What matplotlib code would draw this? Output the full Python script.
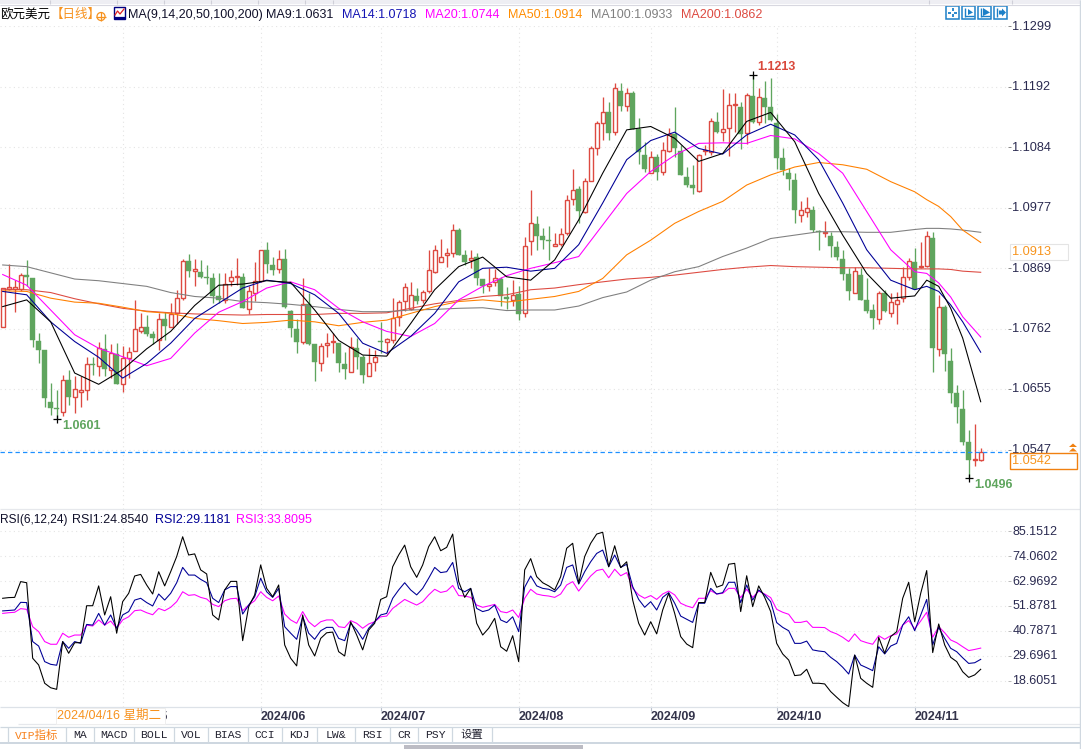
import matplotlib
matplotlib.use("Agg")
import matplotlib.pyplot as plt
from matplotlib.patches import Rectangle, Polygon, Circle
from matplotlib.transforms import ScaledTranslation

W, H = 1081, 749
FONT = ['Liberation Sans', 'Noto Sans CJK SC', 'DejaVu Sans']
plt.rcParams['font.family'] = FONT

opens = [1.0765,1.0832,1.0832,1.0832,1.0857,1.0851,1.0740,1.0724,1.0632,1.0620,
1.0613,1.0671,1.0641,1.0650,1.0652,1.0699,1.0696,1.0726,1.0689,1.0717,
1.0664,1.0709,1.0723,1.0758,1.0764,1.0752,1.0741,1.0779,1.0765,1.0789,
1.0817,1.0882,1.0865,1.0863,1.0854,1.0852,1.0820,1.0813,1.0846,1.0853,
1.0853,1.0797,1.0826,1.0847,1.0902,1.0875,1.0867,1.0886,1.0794,1.0761,
1.0739,1.0805,1.0735,1.0700,1.0732,1.0738,1.0736,1.0699,1.0684,1.0728,
1.0711,1.0677,1.0702,1.0740,1.0739,1.0742,1.0783,1.0811,1.0797,1.0819,
1.0812,1.0828,1.0863,1.0881,1.0892,1.0897,1.0937,1.0892,1.0883,1.0889,
1.0850,1.0837,1.0844,1.0850,1.0818,1.0812,1.0823,1.0789,1.0917,1.0948,
1.0926,1.0919,1.0909,1.0913,1.0931,1.0992,1.1010,1.0969,1.1024,1.1083,
1.1128,1.1147,1.1111,1.1184,1.1157,1.1181,1.1117,1.1070,1.1039,1.1066,
1.1041,1.1078,1.1108,1.1078,1.1031,1.1017,1.1006,1.1078,1.1075,1.1129,
1.1111,1.1118,1.1159,1.1156,1.1109,1.1175,1.1129,1.1172,1.1155,1.1127,
1.1065,1.1038,1.1026,1.0964,1.0969,1.0973,1.0935,1.0931,1.0927,1.0907,
1.0886,1.0859,1.0825,1.0857,1.0813,1.0795,1.0779,1.0825,1.0789,1.0806,
1.0816,1.0854,1.0880,1.0872,1.0874,1.0923,1.0725,1.0800,1.0704,1.0648,
1.0619,1.0560,1.0528,1.0528]
highs = [1.0834,1.0877,1.0848,1.0860,1.0884,1.0851,1.0755,1.0724,1.0665,1.0653,
1.0680,1.0689,1.0678,1.0677,1.0712,1.0712,1.0739,1.0752,1.0735,1.0736,
1.0731,1.0730,1.0812,1.0789,1.0786,1.0757,1.0789,1.0791,1.0807,1.0831,
1.0885,1.0895,1.0885,1.0884,1.0875,1.0860,1.0860,1.0860,1.0866,1.0887,
1.0860,1.0837,1.0881,1.0902,1.0916,1.0890,1.0902,1.0903,1.0795,1.0779,
1.0851,1.0825,1.0735,1.0736,1.0754,1.0754,1.0736,1.0721,1.0747,1.0745,
1.0715,1.0727,1.0724,1.0774,1.0745,1.0816,1.0813,1.0843,1.0844,1.0834,
1.0831,1.0901,1.0911,1.0921,1.0905,1.0948,1.0940,1.0902,1.0902,1.0897,
1.0850,1.0869,1.0867,1.0854,1.0835,1.0848,1.0837,1.0925,1.1008,1.0962,
1.0940,1.0944,1.0932,1.0940,1.0999,1.1046,1.1015,1.1030,1.1086,1.1130,
1.1174,1.1165,1.1199,1.1199,1.1189,1.1184,1.1136,1.1093,1.1077,1.1073,
1.1094,1.1118,1.1155,1.1088,1.1049,1.1053,1.1072,1.1088,1.1136,1.1146,
1.1187,1.1181,1.1181,1.1165,1.1181,1.1213,1.1189,1.1202,1.1207,1.1144,
1.1082,1.1047,1.1038,1.0988,1.0995,1.0980,1.0937,1.0953,1.0934,1.0917,
1.0902,1.0869,1.0872,1.0869,1.0851,1.0805,1.0828,1.0831,1.0825,1.0827,
1.0871,1.0887,1.0905,1.0915,1.0935,1.0934,1.0822,1.0804,1.0727,1.0662,
1.0653,1.0582,1.0592,1.0549]
lows = [1.0764,1.0831,1.0792,1.0828,1.0837,1.0730,1.0700,1.0623,1.0609,1.0601,
1.0606,1.0626,1.0612,1.0623,1.0635,1.0680,1.0678,1.0677,1.0674,1.0664,
1.0650,1.0674,1.0723,1.0755,1.0748,1.0735,1.0724,1.0742,1.0765,1.0771,
1.0813,1.0853,1.0837,1.0851,1.0842,1.0808,1.0807,1.0807,1.0838,1.0839,
1.0799,1.0788,1.0811,1.0845,1.0860,1.0857,1.0860,1.0798,1.0747,1.0719,
1.0735,1.0733,1.0668,1.0686,1.0711,1.0718,1.0684,1.0672,1.0684,1.0691,
1.0666,1.0677,1.0686,1.0718,1.0715,1.0737,1.0766,1.0794,1.0795,1.0806,
1.0807,1.0825,1.0860,1.0881,1.0872,1.0890,1.0893,1.0875,1.0869,1.0840,
1.0825,1.0828,1.0837,1.0802,1.0796,1.0802,1.0777,1.0782,1.0893,1.0902,
1.0903,1.0884,1.0909,1.0909,1.0928,1.0982,1.0949,1.0968,1.1024,1.1070,
1.1097,1.1097,1.1105,1.1149,1.1149,1.1117,1.1054,1.1041,1.1039,1.1026,
1.1035,1.1075,1.1066,1.1034,1.1014,1.1001,1.1005,1.1070,1.1070,1.1109,
1.1095,1.1069,1.1112,1.1081,1.1090,1.1127,1.1124,1.1127,1.1130,1.1046,
1.1035,1.1008,1.0950,1.0952,1.0961,1.0934,1.0901,1.0925,1.0889,1.0884,
1.0848,1.0812,1.0825,1.0812,1.0790,1.0761,1.0771,1.0792,1.0782,1.0770,
1.0810,1.0848,1.0833,1.0869,1.0872,1.0684,1.0713,1.0687,1.0629,1.0595,
1.0555,1.0496,1.0517,1.0527]
closes = [1.0834,1.0835,1.0835,1.0857,1.0854,1.0741,1.0724,1.0639,1.0621,1.0619,
1.0670,1.0641,1.0654,1.0652,1.0699,1.0697,1.0728,1.0691,1.0718,1.0664,
1.0709,1.0721,1.0761,1.0764,1.0752,1.0746,1.0779,1.0767,1.0787,1.0816,
1.0882,1.0865,1.0867,1.0854,1.0851,1.0820,1.0813,1.0842,1.0853,1.0855,
1.0799,1.0828,1.0847,1.0902,1.0877,1.0866,1.0885,1.0801,1.0763,1.0739,
1.0805,1.0735,1.0703,1.0731,1.0737,1.0740,1.0700,1.0691,1.0729,1.0712,
1.0680,1.0700,1.0712,1.0738,1.0743,1.0780,1.0809,1.0835,1.0821,1.0811,
1.0827,1.0866,1.0901,1.0890,1.0896,1.0937,1.0893,1.0881,1.0888,1.0852,
1.0838,1.0842,1.0851,1.0819,1.0814,1.0822,1.0788,1.0908,1.0949,1.0927,
1.0919,1.0917,1.0912,1.0930,1.0990,1.1009,1.0971,1.1024,1.1082,1.1127,
1.1146,1.1110,1.1189,1.1158,1.1180,1.1117,1.1076,1.1046,1.1066,1.1041,
1.1079,1.1107,1.1083,1.1034,1.1017,1.1011,1.1071,1.1080,1.1130,1.1112,
1.1116,1.1159,1.1161,1.1108,1.1177,1.1129,1.1173,1.1156,1.1133,1.1065,
1.1043,1.1028,1.0973,1.0972,1.0977,1.0937,1.0933,1.0933,1.0908,1.0889,
1.0859,1.0829,1.0864,1.0813,1.0794,1.0780,1.0825,1.0794,1.0809,1.0813,
1.0853,1.0882,1.0833,1.0874,1.0926,1.0728,1.0800,1.0716,1.0648,1.0622,
1.0561,1.0529,1.0530,1.0542]

ma_bars = [0,4,8,12,16,20,24,28,32,36,40,44,48,52,56,60,64,68,72,76,80,84,88,92,96,100,104,108,
           112,116,120,124,128,132,136,140,144,148,152,154,156,158,160,163]
ma9 = [1.0801,1.0813,1.0774,1.0683,1.0663,1.0689,1.0726,1.0757,1.0803,1.0839,1.0841,1.0847,1.0844,1.0795,1.0741,
       1.0715,1.0713,1.0771,1.0831,1.0872,1.0889,1.0854,1.0848,1.0884,1.0955,1.1038,1.1115,1.1121,1.1100,1.1059,
       1.1073,1.1130,1.1146,1.1094,1.1002,1.0928,1.0860,1.0816,1.0820,1.0848,1.0837,1.0798,1.0745,1.0632]
ma14 = [1.0828,1.0822,1.0774,1.0739,1.0711,1.0674,1.0700,1.0736,1.0780,1.0807,1.0834,1.0848,1.0842,1.0822,1.0789,
        1.0736,1.0718,1.0748,1.0789,1.0845,1.0869,1.0871,1.0864,1.0869,1.0911,1.0985,1.1062,1.1096,1.1111,1.1082,
        1.1072,1.1106,1.1125,1.1106,1.1062,1.0985,1.0902,1.0848,1.0831,1.0837,1.0828,1.0804,1.0774,1.0720]
ma20 = [1.0858,1.0839,1.0795,1.0751,1.0727,1.0712,1.0696,1.0709,1.0754,1.0791,1.0810,1.0834,1.0845,1.0831,1.0798,
        1.0774,1.0757,1.0748,1.0771,1.0813,1.0837,1.0856,1.0869,1.0879,1.0890,1.0946,1.1002,1.1041,1.1070,1.1091,
        1.1092,1.1091,1.1105,1.1099,1.1073,1.1038,1.0970,1.0902,1.0863,1.0860,1.0843,1.0818,1.0783,1.0747]
ma50 = [1.0829,1.0828,1.0816,1.0809,1.0807,1.0800,1.0792,1.0789,1.0780,1.0776,1.0771,1.0773,1.0777,1.0774,1.0767,
        1.0773,1.0777,1.0789,1.0801,1.0810,1.0813,1.0809,1.0814,1.0819,1.0828,1.0851,1.0893,1.0919,1.0949,1.0970,
        1.0988,1.1017,1.1035,1.1049,1.1057,1.1053,1.1045,1.1023,1.1005,1.0991,1.0979,1.0961,1.0937,1.0915]
ma100 = [1.0875,1.0872,1.0861,1.0850,1.0847,1.0842,1.0837,1.0826,1.0819,1.0816,1.0810,1.0808,1.0805,1.0801,1.0796,
         1.0792,1.0792,1.0795,1.0796,1.0798,1.0799,1.0794,1.0795,1.0795,1.0802,1.0817,1.0827,1.0848,1.0863,1.0872,
         1.0890,1.0905,1.0922,1.0928,1.0934,1.0934,1.0933,1.0933,1.0938,1.0940,1.0940,1.0939,1.0937,1.0933]
ma200 = [1.0832,1.0831,1.0826,1.0815,1.0806,1.0798,1.0793,1.0790,1.0788,1.0787,1.0786,1.0787,1.0787,1.0787,1.0789,
         1.0789,1.0790,1.0798,1.0806,1.0812,1.0819,1.0822,1.0831,1.0834,1.0840,1.0845,1.0850,1.0853,1.0857,1.0862,
         1.0867,1.0871,1.0874,1.0872,1.0871,1.0870,1.0870,1.0869,1.0868,1.0868,1.0868,1.0867,1.0864,1.0862]

rsi1 = [55.3,55.6,55.7,62.7,62.2,28.7,25.7,17.6,15.6,14.9,36.1,30.9,35.6,35.6,52.0,52.0,60.8,47.9,56.0,39.8,
53.8,57.5,65.2,65.9,61.2,57.2,67.1,60.8,67.1,73.8,82.6,74.5,75.0,67.9,66.1,47.9,45.7,59.0,62.8,62.8,
36.5,51.6,56.8,70.1,59.7,56.0,61.2,34.6,28.7,25.3,47.9,34.6,29.7,37.5,40.0,40.3,31.6,29.7,44.9,39.0,
32.4,41.2,44.2,54.8,56.0,69.3,74.5,78.9,69.3,64.6,70.1,78.2,82.6,76.4,77.9,83.8,62.7,55.7,59.7,44.2,
39.0,42.0,46.4,33.8,31.8,38.7,27.2,67.9,72.9,64.9,
62.2,60.8,59.0,64.9,77.5,79.7,61.9,73.8,79.7,83.8,84.6,69.3,78.6,68.9,71.5,54.5,44.2,39.0,44.9,39.5,
50.1,57.5,48.6,38.3,35.0,33.4,53.4,53.4,66.8,60.2,61.2,70.4,70.8,49.4,65.3,51.6,60.8,55.7,49.4,35.3,
30.6,27.9,21.0,21.3,23.8,17.6,17.6,17.3,13.9,11.4,9.0,7.2,30.1,19.8,17.6,15.8,38.0,30.9,38.3,40.5,
55.3,62.4,44.9,57.5,67.6,31.2,43.9,34.6,29.1,27.2,22.7,20.2,21.3,23.8]
rsi2 = [49.7,49.9,50.1,53.5,53.4,36.1,34.1,27.2,26.0,25.6,36.1,33.1,36.1,35.3,43.7,43.4,48.6,43.4,47.9,42.0,
47.9,49.4,54.5,55.3,53.4,51.9,57.2,54.5,57.5,62.2,69.0,65.6,65.6,63.7,62.2,55.3,53.4,59.0,60.5,60.5,
48.3,52.3,56.0,64.2,58.2,55.7,59.7,42.7,39.8,37.1,47.1,39.8,37.1,40.9,42.4,42.4,37.5,36.5,44.2,41.2,
37.1,42.0,44.9,47.9,48.6,55.3,59.0,62.2,59.0,56.8,59.7,64.2,69.0,66.7,67.1,71.2,59.7,58.2,59.7,50.8,
49.4,50.1,52.3,45.7,44.5,47.1,40.5,60.2,65.2,60.8,
59.7,59.3,58.2,61.2,69.0,70.1,61.6,67.1,71.5,75.2,76.7,69.3,74.5,69.0,70.4,60.5,54.8,51.3,53.8,50.1,
55.7,57.8,53.1,47.4,46.0,44.6,53.1,53.1,59.7,57.2,57.8,62.4,62.4,53.4,61.2,54.5,59.0,56.8,53.8,44.5,
42.4,40.9,35.3,35.3,36.3,32.4,31.9,31.6,29.1,27.2,24.7,21.7,30.1,25.7,24.5,23.2,33.8,30.6,34.1,35.3,
43.4,47.1,40.9,47.9,54.8,34.6,42.4,37.5,33.1,31.6,28.9,26.4,26.7,28.2]
rsi3 = [48.6,48.9,49.1,50.7,50.4,42.7,40.5,36.1,34.9,34.9,39.8,38.0,39.0,39.0,43.4,43.0,45.7,43.4,45.2,42.0,
45.7,47.1,49.8,50.1,48.9,48.0,50.8,49.8,51.3,53.8,58.2,56.6,56.9,55.7,55.0,52.6,51.6,54.2,55.1,55.3,
49.8,52.3,54.2,58.2,55.7,54.2,56.3,48.3,45.7,44.2,49.4,44.9,42.7,44.9,45.7,45.7,42.7,42.3,45.4,44.2,
42.0,43.9,44.9,47.1,47.4,50.8,52.8,54.8,53.5,52.3,53.8,56.8,59.3,57.9,58.5,61.0,56.5,56.3,55.7,52.3,
51.3,51.9,52.6,49.4,48.9,50.1,46.8,55.3,59.3,57.2,
56.6,56.3,55.7,57.2,61.2,62.7,58.5,61.9,65.2,67.6,68.2,64.4,68.2,65.3,66.7,59.7,56.8,55.3,56.5,54.8,
57.2,58.5,56.8,53.1,51.9,51.1,55.3,55.3,58.7,57.2,57.5,59.7,59.7,55.6,59.3,55.7,58.5,57.2,55.6,50.4,
49.1,48.2,44.6,44.6,45.2,42.4,42.4,42.3,40.5,39.5,38.0,36.1,39.5,36.5,35.6,34.9,38.7,37.1,38.7,39.5,
43.4,45.4,41.7,45.2,49.1,38.0,42.7,40.0,36.8,35.6,33.8,32.1,32.6,33.2]

price_ticks = [1.1299,1.1192,1.1084,1.0977,1.0869,1.0762,1.0655,1.0547]
rsi_ticks = [85.1512,74.0602,62.9692,51.8781,40.7871,29.6961,18.6051]
date_bars = [20,43,63,86,108,129,152]
date_labels = ['2024/05','2024/06','2024/07','2024/08','2024/09','2024/10','2024/11']
tab_labels = ['VIP指标','MA','MACD','BOLL','VOL','BIAS','CCI','KDJ','LW&','RSI','CR','PSY','设置']
last_price = 1.0542
ma50_last = 1.0913
high_bar, low_bar, low2_bar = 125, 9, 161

n = len(closes)
assert all(len(a) == n for a in (opens, highs, lows, rsi1, rsi2, rsi3))
bars = list(range(n))

RED, GREEN = '#dd4a41', '#5fa55e'
C_MA = ['#000000', '#000096', '#ff00ff', '#ff8000', '#808080', '#dd4a41']
GRID = '#e4e4e4'
TICKC = '#2a2a50'
LINE_W = 0.78

fig = plt.figure(figsize=(W/100, H/100), dpi=100, facecolor='white')

def rect(x0, y0, x1, y1):
    return [x0/W, 1-y1/H, (x1-x0)/W, (y1-y0)/H]

X_LEFT, X_RIGHT = -0.445, 167.55

def shift_ylabels(a):
    off = ScaledTranslation(0, -0.5/100, fig.dpi_scale_trans)
    for lbl in a.get_yticklabels():
        lbl.set_transform(lbl.get_transform() + off)

# price panel
ax = fig.add_axes(rect(0, 26, 1008, 509))
ax.set_xlim(X_LEFT, X_RIGHT)
ax.set_ylim(1.1213-(509-74.7)/5629, 1.1213-(26-74.7)/5629)
for s in ax.spines.values():
    s.set_visible(False)
ax.set_xticks([])
ax.yaxis.tick_right()
ax.set_yticks(price_ticks)
ax.set_yticklabels([f'{t:.4f}' for t in price_ticks], fontsize=9.2, color=TICKC, va='center')
ax.tick_params(axis='y', length=2, width=0.7, color='#888888', pad=1.2)
shift_ylabels(ax)
for t in price_ticks:
    ax.axhline(t, color=GRID, lw=0.8, ls=(0, (1, 3)), zorder=0)
for b in date_bars:
    ax.axvline(b, color=GRID, lw=0.8, ls=(0, (1, 3)), zorder=0)

for i in bars:
    up = closes[i] >= opens[i]
    c = RED if up else GREEN
    ax.vlines(i, lows[i], highs[i], color=c, lw=0.95, zorder=2)
    lo, hi = min(opens[i], closes[i]), max(opens[i], closes[i])
    if up:
        ax.bar(i, hi-lo, bottom=lo, width=0.66, facecolor='white', edgecolor=c, linewidth=1.0, zorder=3)
    else:
        ax.bar(i, hi-lo, bottom=lo, width=0.82, facecolor=c, edgecolor=c, linewidth=0.3, zorder=3)

for series, c in zip((ma200, ma100, ma50, ma20, ma14, ma9), C_MA[::-1]):
    ax.plot(ma_bars, series, color=c, lw=LINE_W, zorder=4, solid_joinstyle='round')

ax.axhline(last_price, color='#1e90ff', lw=0.9, ls=(0, (3.5, 2.5)), zorder=5)
for b, v in ((high_bar, highs[high_bar]), (low_bar, lows[low_bar]), (low2_bar, lows[low2_bar])):
    ax.plot([b], [v], marker='+', ms=6, mew=0.9, color='black', zorder=6)

# RSI panel
ax2 = fig.add_axes(rect(0, 510, 1008, 707))
ax2.set_xlim(X_LEFT, X_RIGHT)
ax2.set_ylim(18.6+(681-707)*0.4437, 18.6+(681-510)*0.4437)
for s in ax2.spines.values():
    s.set_visible(False)
ax2.yaxis.tick_right()
ax2.set_yticks(rsi_ticks)
ax2.set_yticklabels([f'{t:.4f}' for t in rsi_ticks], fontsize=9, color=TICKC, va='center')
ax2.tick_params(axis='y', length=2, width=0.7, color='#bbbbbb', pad=1.2)
shift_ylabels(ax2)
ax2.set_xticks(date_bars)
ax2.set_xticklabels(date_labels, ha='left', fontsize=9, fontweight='bold', color='#33334a')
ax2.tick_params(axis='x', length=3, width=0.8, color='#b8c0cc', pad=0)
for t in rsi_ticks:
    ax2.axhline(t, color=GRID, lw=0.8, ls=(0, (1, 3)), zorder=0)
for b in date_bars:
    ax2.axvline(b, color=GRID, lw=0.8, ls=(0, (1, 3)), zorder=0)
ax2.plot(bars, rsi3, color='#ff00ff', lw=LINE_W, zorder=2)
ax2.plot(bars, rsi2, color='#000096', lw=LINE_W, zorder=3)
ax2.plot(bars, rsi1, color='#000000', lw=LINE_W, zorder=4)

# overlay in pixel coordinates for the terminal's interface
ov = fig.add_axes([0, 0, 1, 1], zorder=10)
ov.set_xlim(0, W)
ov.set_ylim(H, 0)
ov.axis('off')
ov.patch.set_alpha(0)

def txt(x, y, s, color='black', size=9, **kw):
    kw.setdefault('family', FONT)
    ov.text(x, y, s, color=color, fontsize=size, ha=kw.pop('ha', 'left'), va='center', **kw)

def hline(x0, x1, y, color, lw=0.8, **kw):
    ov.plot([x0, x1], [y, y], color=color, lw=lw, solid_capstyle='butt', **kw)

def vline(x, y0, y1, color, lw=0.8):
    ov.plot([x, x], [y0, y1], color=color, lw=lw, solid_capstyle='butt')

# top tab strip
ov.add_patch(Rectangle((0, 0), W, 4, fc='#eeeef3', ec='none'))
hline(0, W, 4.5, '#d8d8e0')
for x in [50, 117, 164, 211, 258, 305, 333, 929, 1012]:
    vline(x, 0, 4, '#cfcfd8')

# header
txt(0, 15, '欧元美元', 'black', 9)
txt(51, 15, '【日线】', '#f7921e', 9)
ov.add_patch(Circle((101, 16.5), 4, fc='none', ec='#f7921e', lw=0.9))
hline(96, 106, 16.5, '#f7921e', 0.9)
vline(101, 12, 21, '#f7921e', 0.9)
ov.add_patch(Rectangle((114, 6.5), 10.5, 12, fc='white', ec='#000080', lw=1))
ov.plot([115, 117.5, 120, 124], [15, 11, 14, 9], color='#e02020', lw=0.9)
hline(114, 124.5, 17.5, '#000080', 1.6)
txt(128, 15, 'MA(9,14,20,50,100,200)', '#10102a', 9)
txt(266, 15, 'MA9:1.0631', '#10102a', 9)
txt(342, 15, 'MA14:1.0718', '#1414b4', 9)
txt(425, 15, 'MA20:1.0744', '#ff00ff', 9)
txt(508, 15, 'MA50:1.0914', '#ff8c00', 9)
txt(591, 15, 'MA100:1.0933', '#808080', 9)
txt(681, 15, 'MA200:1.0862', '#dd4a41', 9)

# toolbar buttons
ICON = '#1c80c8'
for x0 in (946, 962, 978, 994):
    ov.add_patch(Rectangle((x0, 6), 13, 13, fc='white', ec=ICON, lw=1.1))
hline(948, 951, 12.5, ICON, 1.3); hline(954, 957, 12.5, ICON, 1.3)
vline(952.5, 8, 11, ICON, 1.3); vline(952.5, 14, 17, ICON, 1.3)
vline(965, 8, 17, ICON, 1); hline(965, 974, 16, ICON, 1)
ov.add_patch(Polygon([(968, 9), (973, 12.5), (968, 15)], fc=ICON, ec='none'))
vline(981, 8, 17, ICON, 1); hline(981, 990, 16, ICON, 1)
ov.add_patch(Polygon([(983, 8), (990, 12.5), (983, 16)], fc=ICON, ec='none'))
vline(997, 8, 17, ICON, 1)
ov.add_patch(Polygon([(999, 10.5), (1002, 10.5), (1002, 8.5), (1006, 12.5), (1002, 16.5), (1002, 14.5), (999, 14.5)], fc=ICON, ec='none'))

# extreme labels
txt(757, 67, '1.1213', '#d9483b', 9, fontweight='bold')
txt(62, 426, '1.0601', '#5fa55e', 9, fontweight='bold')
txt(974, 485, '1.0496', '#5fa55e', 9, fontweight='bold')

# MA50 flag and last price flag
ov.add_patch(Rectangle((1010, 243.5), 58, 16.5, fc='white', ec='#e4e4e4', lw=0.8))
txt(1012, 252, '1.0913', '#f7941d', 9.2)
ov.add_patch(Rectangle((1009.5, 452.5), 67.5, 16.5, fc='white', ec='#f08010', lw=1.0))
txt(1012, 461, '1.0542', '#f7941d', 9.2)
ov.add_patch(Polygon([(1069, 447), (1073, 443.5), (1077, 447)], fc='#f08010', ec='none'))
ov.add_patch(Polygon([(1069, 451.5), (1073, 448), (1077, 451.5)], fc='#f08010', ec='none'))

# separators
hline(0, 1081, 509, '#e6e8ec', 0.9)
hline(0, 1081, 707, '#dde2e8', 0.9)
hline(18, 1081, 724, '#e6e8ec', 0.9)
hline(0, 1081, 727, '#cfd8e0', 0.9)
hline(0, 1081, 743, '#c5d0da', 1.2)
vline(1080, 0, 749, '#d0d8e0', 1)

# RSI header
txt(0, 520, 'RSI(6,12,24)', '#10102a', 8.6)
txt(72, 520, 'RSI1:24.8540', '#10102a', 9)
txt(155, 520, 'RSI2:29.1181', '#000096', 9)
txt(236, 520, 'RSI3:33.8095', '#ff00ff', 9)

# cursor date box
ov.add_patch(Rectangle((56, 708), 109, 15.5, fc='white', ec='#eeeeee', lw=0.7, zorder=5))
txt(57, 716, '2024/04/16 星期二', '#f7921e', 9, zorder=6)

# tab bar
edges = [7.5, 65.5, 94, 134, 174, 208, 248, 282, 316.5, 355, 390, 418, 452, 492]
for x in edges:
    vline(x, 727, 743, '#cfd8e0', 0.9)
for k, lab in enumerate(tab_labels):
    c = '#f7821e' if k == 0 else '#222230'
    txt((edges[k]+edges[k+1])/2, 735, lab, c, 8.2, ha='center',
        family=['Liberation Mono', 'Noto Sans CJK SC'])

# scrollbar
ov.add_patch(Rectangle((404, 744.5), 179, 4.5, fc='#bcbcc4', ec='none'))
fig.savefig('out.png', dpi=100)
